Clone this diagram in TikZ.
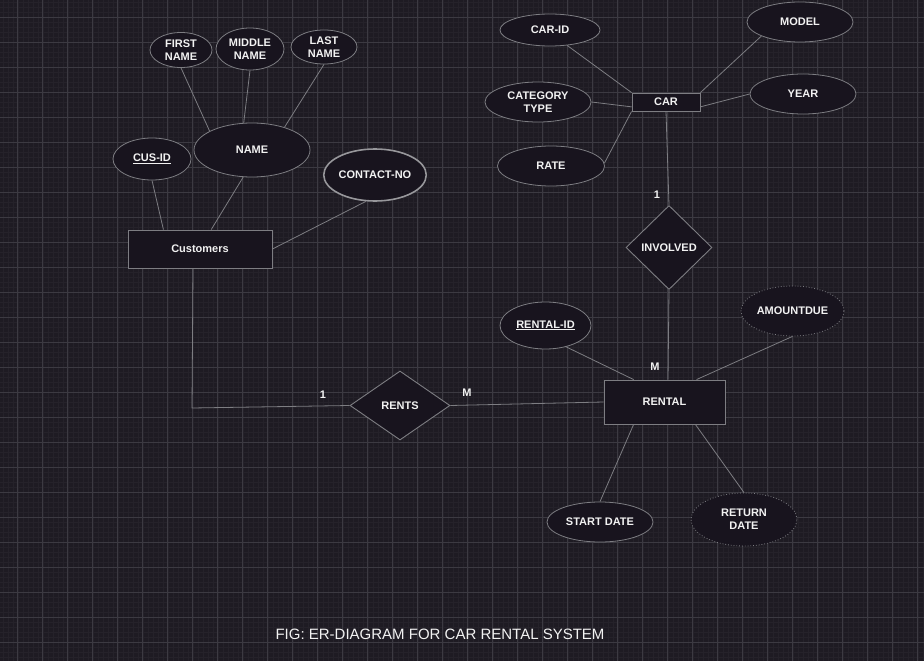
\documentclass[tikz,border=0pt]{standalone}
\usepackage{fontspec}
\setmainfont{Liberation Sans}
\usetikzlibrary{shapes.geometric}
\definecolor{bgc}{RGB}{30,27,35}
\definecolor{minorc}{RGB}{37,34,42}
\definecolor{majorc}{RGB}{60,58,66}
\definecolor{fillc}{RGB}{24,20,30}
\definecolor{strokec}{RGB}{125,125,130}
\definecolor{txtc}{RGB}{242,242,242}
\tikzset{
  ent/.style={rectangle, draw=strokec, fill=fillc, line width=0.9pt, inner sep=0pt, text=txtc, font=\bfseries\fontsize{11}{13}\selectfont, align=center},
  attr/.style={ellipse, draw=strokec, fill=fillc, line width=0.8pt, inner sep=0pt, text=txtc, font=\bfseries\fontsize{11}{13}\selectfont, align=center},
  rel/.style={diamond, draw=strokec, fill=fillc, line width=0.9pt, inner sep=0pt, text=txtc, font=\bfseries\fontsize{11}{13}\selectfont, aspect=1},
  conn/.style={draw=strokec, line width=0.8pt},
  card/.style={text=txtc, font=\bfseries\fontsize{11}{13}\selectfont, inner sep=0pt},
}
\begin{document}
\begin{tikzpicture}[x=1pt,y=-1pt]
\fill[bgc] (0,0) rectangle (924,661);
\useasboundingbox (0,0) rectangle (924,661);
% grid
\foreach \i in {0,...,190} {
  \draw[minorc, line width=0.6pt] ({-7.2+5*\i},0) -- ({-7.2+5*\i},661);
}
\foreach \i in {0,...,140} {
  \draw[minorc, line width=0.6pt] (0,{-7.7+5*\i}) -- (924,{-7.7+5*\i});
}
\foreach \i in {0,...,38} {
  \draw[majorc, line width=0.8pt] ({17.8+25*\i},0) -- ({17.8+25*\i},661);
}
\foreach \i in {0,...,27} {
  \draw[majorc, line width=0.8pt] (0,{17.3+25*\i}) -- (924,{17.3+25*\i});
}

% Customer side
\node[attr, minimum width=62, minimum height=35] (fn) at (181,50) {FIRST\\NAME};
\node[attr, minimum width=68, minimum height=42] (mn) at (250,49) {MIDDLE\\NAME};
\node[attr, minimum width=66, minimum height=34] (ln) at (324,47) {LAST\\NAME};
\node[attr, minimum width=116, minimum height=54] (name) at (252,150) {NAME};
\node[attr, minimum width=78, minimum height=42] (cusid) at (152,159) {\underline{CUS-ID}};
\node[attr, draw=strokec!80!white, line width=1.6pt, minimum width=98, minimum height=52] (contact) at (375,175) {CONTACT-NO};
\node[ent, minimum width=144, minimum height=38] (cust) at (200,249) {Customers};

\draw[conn] (fn.south) -- (name.156);
\draw[conn] (mn.south) -- (name.107);
\draw[conn] (ln.south) -- (name.35);
\draw[conn] (cusid.south) -- (cust.152);
\draw[conn] (name.252) -- (cust.60);
\draw[conn] (contact.251) -- (cust.east);

% RENTS
\node[rel, minimum width=100, minimum height=69, aspect=1.45] (rents) at (400,405.5) {RENTS};
\node[ent, minimum width=121, minimum height=44] (rental) at (664.5,402) {RENTAL};
\coordinate (cbend) at (192,408);
\draw[conn] ([xshift=-7pt]cust.south) -- (cbend) -- (rents.west);
\draw[conn] (rents.east) -- (rental.west);
\node[card] (c1) at (323,395) {1};
\node[card] (cm) at (467,393) {M};

% CAR side
\node[ent, minimum width=68, minimum height=18] (car) at (666,102) {CAR};
\node[attr, minimum width=100, minimum height=32] (carid) at (550,30) {CAR-ID};
\node[attr, minimum width=106, minimum height=40] (model) at (800,22) {MODEL};
\node[attr, minimum width=106, minimum height=40] (cat) at (538,102) {CATEGORY\\TYPE};
\node[attr, minimum width=106, minimum height=40] (year) at (803,94) {YEAR};
\node[attr, minimum width=107, minimum height=40] (rate) at (551,166) {RATE};

\draw[conn] (carid.318) -- (car.north west);
\draw[conn] (cat.east) -- (car.188);
\draw[conn] (rate.3) -- (car.south west);
\draw[conn] (model.200) -- (car.north east);
\draw[conn] (year.west) -- (car.352);

\node[rel, minimum width=86, minimum height=84] (inv) at (669,247.5) {INVOLVED};
\draw[conn] (car.south) -- (inv.north);
\draw[conn] (inv.south) -- ([xshift=3.5pt]rental.north);
\node[card] (c2) at (657,195) {1};
\node[card] (cm2) at (655,367) {M};

% RENTAL attributes
\node[attr, minimum width=91, minimum height=47] (rid) at (545.5,325.5) {\underline{RENTAL-ID}};
\node[attr, dotted, minimum width=103, minimum height=50] (amt) at (792.5,311) {AMOUNTDUE};
\node[attr, minimum width=106, minimum height=40] (start) at (600,522) {START DATE};
\node[attr, dotted, minimum width=106, minimum height=53] (ret) at (744,519.5) {RETURN\\DATE};

\draw[conn] (rid.314) -- (rental.144);
\draw[conn] (amt.south) -- (rental.35);
\draw[conn] (start.north) -- (rental.216);
\draw[conn] (ret.north) -- (rental.324);

\node[text=txtc, font=\fontsize{15}{17}\selectfont, inner sep=0pt] (cap) at (440,634) {FIG: ER-DIAGRAM FOR CAR RENTAL SYSTEM};
\end{tikzpicture}
\end{document}
